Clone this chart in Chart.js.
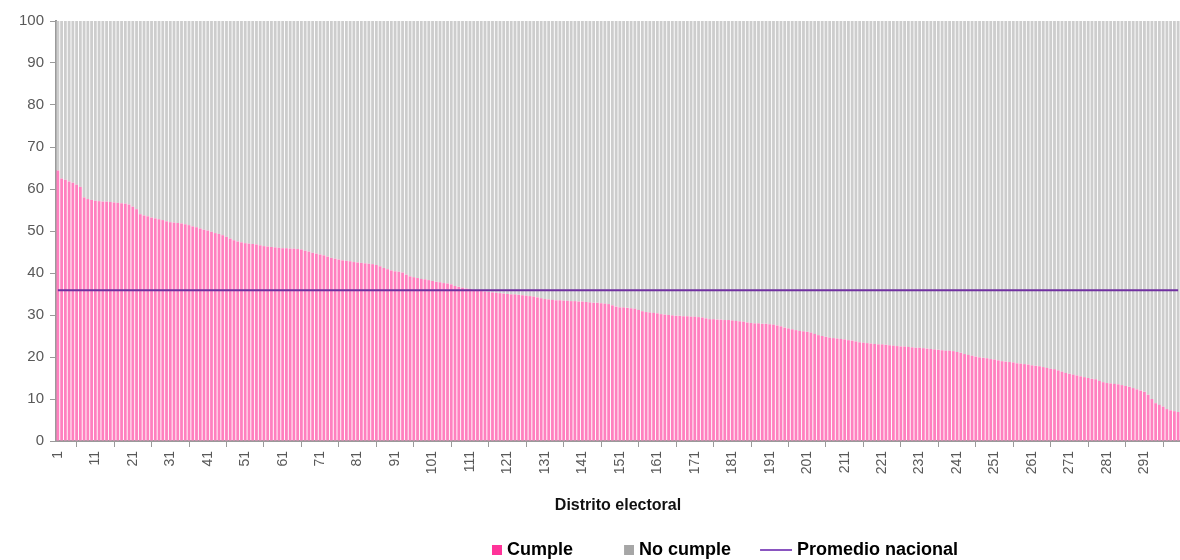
<!DOCTYPE html>
<html lang="es">
<head>
<meta charset="utf-8">
<title>Distrito electoral</title>
<script src="https://cdn.jsdelivr.net/npm/chart.js@4.4.1/dist/chart.umd.min.js"></script>
<style>
  html, body { margin: 0; padding: 0; background: #fff; }
  #wrap { width: 1180px; height: 560px; position: relative; }
</style>
</head>
<body>
<div id="wrap"><canvas id="chart"></canvas></div>
<script>
// Porcentaje que cumple por distrito electoral, ordenado de mayor a menor
const cumple = [
  64.4, 62.5, 62.2, 61.8, 61.5, 61.0, 60.5, 58.0, 57.6, 57.4,
  57.2, 57.1, 57.0, 57.0, 56.9, 56.8, 56.7, 56.6, 56.5, 56.3,
  55.8, 55.2, 54.0, 53.7, 53.5, 53.2, 53.0, 52.8, 52.6, 52.3,
  52.1, 52.0, 51.9, 51.8, 51.6, 51.4, 51.1, 50.9, 50.6, 50.3,
  50.1, 49.8, 49.5, 49.3, 49.0, 48.6, 48.2, 47.8, 47.5, 47.3,
  47.1, 47.0, 46.9, 46.8, 46.6, 46.4, 46.3, 46.2, 46.1, 46.0,
  45.9, 45.9, 45.8, 45.8, 45.7, 45.6, 45.3, 45.1, 44.8, 44.6,
  44.4, 44.2, 43.9, 43.6, 43.4, 43.2, 43.0, 42.9, 42.8, 42.6,
  42.5, 42.4, 42.3, 42.2, 42.1, 41.9, 41.6, 41.2, 40.9, 40.6,
  40.4, 40.3, 40.1, 39.6, 39.2, 39.0, 38.8, 38.6, 38.5, 38.3,
  38.1, 37.9, 37.8, 37.6, 37.5, 37.3, 36.9, 36.7, 36.5, 36.3,
  36.2, 36.0, 35.8, 35.7, 35.6, 35.5, 35.4, 35.3, 35.2, 35.1,
  35.0, 34.9, 34.9, 34.8, 34.7, 34.6, 34.5, 34.4, 34.2, 34.0,
  33.8, 33.7, 33.6, 33.5, 33.5, 33.4, 33.4, 33.3, 33.3, 33.2,
  33.2, 33.1, 33.0, 32.9, 32.9, 32.8, 32.7, 32.6, 32.3, 32.0,
  31.8, 31.8, 31.7, 31.6, 31.5, 31.2, 30.9, 30.7, 30.6, 30.5,
  30.4, 30.2, 30.1, 30.0, 29.9, 29.8, 29.8, 29.7, 29.7, 29.6,
  29.6, 29.5, 29.4, 29.2, 29.0, 29.0, 28.9, 28.9, 28.8, 28.8,
  28.7, 28.6, 28.5, 28.4, 28.2, 28.1, 28.0, 28.0, 27.9, 27.9,
  27.8, 27.7, 27.5, 27.3, 27.0, 26.8, 26.6, 26.4, 26.2, 26.1,
  26.0, 25.8, 25.5, 25.2, 25.0, 24.8, 24.6, 24.5, 24.4, 24.3,
  24.2, 24.0, 23.9, 23.7, 23.5, 23.4, 23.3, 23.2, 23.1, 23.0,
  23.0, 22.9, 22.8, 22.7, 22.6, 22.5, 22.5, 22.4, 22.3, 22.2,
  22.2, 22.1, 22.0, 21.9, 21.8, 21.7, 21.6, 21.5, 21.5, 21.4,
  21.2, 21.0, 20.7, 20.5, 20.3, 20.1, 19.9, 19.8, 19.7, 19.5,
  19.4, 19.2, 19.0, 18.9, 18.8, 18.7, 18.5, 18.4, 18.3, 18.2,
  18.0, 17.9, 17.8, 17.6, 17.4, 17.2, 17.1, 16.8, 16.5, 16.2,
  16.0, 15.8, 15.6, 15.4, 15.2, 15.0, 14.8, 14.7, 14.3, 14.0,
  13.8, 13.7, 13.6, 13.5, 13.3, 13.1, 12.9, 12.6, 12.3, 12.0,
  11.7, 11.0, 10.0,  9.0,  8.6,  8.2,  7.6,  7.3,  7.1,  6.9
];

// Districts 1..300 on the category axis
const distritos = cumple.map((v, i) => String(i + 1));

// The rest of each district up to 100%
const noCumple = cumple.map(v => Math.round((100 - v) * 10) / 10);

const promedioNacional = 35.9;

const FONT = "'Liberation Sans', Arial, sans-serif";
const PINK = '#FF80BF';
const GRAY = '#CDCDCD';
const PURPLE = '#7030A0';
const AXIS = '#9A9A9A';
const ICON_W = 54;

// Legend icons: small square or short line, aligned to the right of the icon box
function legendIcon(kind, color) {
    const c = document.createElement('canvas');
    c.width = ICON_W + 8;
    c.height = 12;
    const ctx = c.getContext('2d');
    if (kind === 'box') {
        ctx.fillStyle = color;
        ctx.fillRect(c.width - 10, 1, 10, 10);
    } else {
        ctx.strokeStyle = color;
        ctx.lineWidth = 2;
        ctx.beginPath();
        ctx.moveTo(c.width - 32, 6);
        ctx.lineTo(c.width, 6);
        ctx.stroke();
    }
    return c;
}

const icons = [legendIcon('box', '#FF3399'), legendIcon('box', '#A6A6A6'), legendIcon('line', '#8A55C0')];

// Move the legend under the right part of the plot, as in the original
const legendShift = {
    id: 'legendShift',
    afterLayout(chart) {
        const lg = chart.legend;
        lg.left = 441;
        lg.right = 1180;
        lg.top += 9;
        lg.bottom += 9;
    }
};

new Chart(document.getElementById('chart'), {
    data: {
        labels: distritos,
        datasets: [
            {
                type: 'bar',
                label: 'Cumple',
                data: cumple,
                backgroundColor: PINK,
                stack: 'dist',
                categoryPercentage: 0.75,
                barPercentage: 1,
                inflateAmount: 0,
                order: 1
            },
            {
                type: 'bar',
                label: 'No cumple',
                data: noCumple,
                backgroundColor: GRAY,
                stack: 'dist',
                categoryPercentage: 0.75,
                barPercentage: 1,
                inflateAmount: 0,
                order: 1
            },
            {
                type: 'line',
                label: 'Promedio nacional',
                data: distritos.map(() => promedioNacional),
                borderColor: PURPLE,
                borderWidth: 2,
                pointRadius: 0,
                stack: 'prom',
                order: 0
            }
        ]
    },
    options: {
        responsive: true,
        maintainAspectRatio: false,
        animation: false,
        layout: { padding: { top: 21, right: 0, bottom: 0, left: 0 } },
        plugins: {
            tooltip: { enabled: false },
            legend: {
                position: 'bottom',
                align: 'start',
                labels: {
                    usePointStyle: true,
                    pointStyleWidth: ICON_W,
                    padding: 3,
                    color: '#000',
                    font: { size: 18, weight: 'bold', family: FONT },
                    generateLabels(chart) {
                        const items = Chart.defaults.plugins.legend.labels.generateLabels(chart);
                        items.sort((a, b) => a.datasetIndex - b.datasetIndex);
                        items.forEach(it => { it.pointStyle = icons[it.datasetIndex]; });
                        return items;
                    }
                }
            }
        },
        scales: {
            x: {
                stacked: true,
                grid: { drawOnChartArea: false, tickLength: 6, color: AXIS, offset: true },
                border: { color: AXIS, width: 2 },
                ticks: {
                    autoSkip: false,
                    minRotation: 90,
                    maxRotation: 90,
                    padding: 4,
                    color: '#595959',
                    font: { size: 14, family: FONT },
                    callback(value, index) {
                        return index % 10 === 0 ? this.getLabelForValue(value) : null;
                    }
                },
                title: {
                    display: true,
                    text: 'Distrito electoral',
                    color: '#111',
                    font: { size: 16, weight: 'bold', family: FONT },
                    padding: { top: 0, bottom: 14 }
                },
                afterFit(scale) { scale.height = 88; }
            },
            y: {
                stacked: true,
                min: 0,
                max: 100,
                ticks: {
                    stepSize: 10,
                    padding: 6,
                    color: '#595959',
                    font: { size: 15, family: FONT }
                },
                grid: { drawOnChartArea: false, tickLength: 6, color: AXIS },
                border: { color: AXIS, width: 2 },
                afterFit(scale) { scale.width = 56; }
            }
        }
    },
    plugins: [legendShift]
});
</script>
</body>
</html>
